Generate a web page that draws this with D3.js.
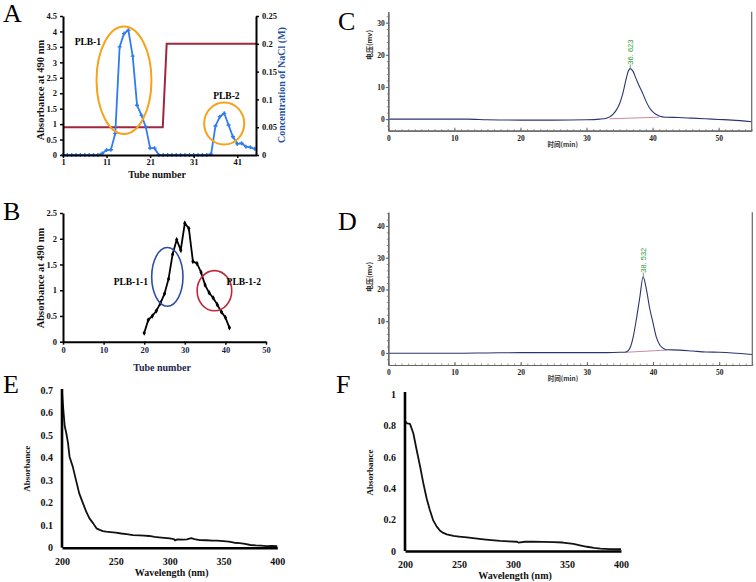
<!DOCTYPE html>
<html>
<head>
<meta charset="utf-8">
<script src="https://cdn.jsdelivr.net/npm/d3@7"></script>
<style>
  body { margin: 0; background: #fff; }
  svg text { font-family: "Liberation Serif", "Times New Roman", serif; }
</style>
</head>
<body>
<div id="app"></div>
<script>
// ---- panel A: DEAE column ----
const aTube = [1, 2, 3, 4, 5, 6, 7, 8, 9, 10, 11, 12, 13, 14, 15, 16, 17, 18, 19, 20, 21, 22, 23,
  24, 25, 26, 27, 28, 29, 30, 31, 32, 33, 34, 35, 36, 37, 38, 39, 40, 41, 42, 43, 44, 45];
const aAbs = [0, 0, 0, 0, 0, 0, 0, 0, 0, 0.05, 0.16, 0.17, 0.7, 3.5, 3.93, 4.04, 3.2, 1.61, 1.29, 0.91, 0.22, 0.22, 0,
  0, 0, 0, 0, 0, 0, 0, 0, 0, 0, 0, 0.03, 0.94, 1.24, 1.35, 0.97, 0.59, 0.36, 0.38, 0.27, 0.25, 0.2];
const naclTube = [1, 23.9, 24.8, 45.3];
const naclConc = [0.05, 0.05, 0.2, 0.2];
const aLeftTicks = [0, 0.5, 1, 1.5, 2, 2.5, 3, 3.5, 4, 4.5];
const aRightTicks = [0, 0.05, 0.1, 0.15, 0.2, 0.25];
const aTubeTicks = [1, 11, 21, 31, 41];
// circled fractions: centre (tube, abs) and half-axes (tubes, abs)
const aRings = [
  { name: "PLB-1", tube: 15, abs: 2.42, dt: 6.3, da: 1.74, lt: 6.7, la: 3.55 },
  { name: "PLB-2", tube: 38, abs: 1.02, dt: 4.6, da: 0.68, lt: 38.5, la: 1.82 }
];

// ---- panel B: Sephadex column ----
const bTube = [20, 21, 22, 23, 24, 25, 26, 27, 28, 29, 30, 31, 32, 33, 34, 35, 36, 37, 38, 39, 40, 41];
const bAbs = [0.17, 0.42, 0.5, 0.6, 0.75, 0.93, 1.22, 1.7, 1.98, 1.78, 2.3, 2.2, 1.56, 1.52, 1.35, 1.1,
  0.95, 0.85, 0.72, 0.58, 0.47, 0.27];
const bYTicks = [0, 0.5, 1, 1.5, 2, 2.5];
const bXTicks = [0, 10, 20, 30, 40, 50];
const bRings = [
  { name: "PLB-1-1", tube: 25.7, abs: 1.26, dt: 3.85, da: 0.57, color: "#2b4ea3", lt: 16.7, la: 1.1, anchor: "middle" },
  { name: "PLB-1-2", tube: 37.3, abs: 0.99, dt: 4.26, da: 0.39, color: "#c0283a", lt: 40.3, la: 1.1, anchor: "start" }
];

// ---- panels C, D: HPLC ----
const cTime = [0, 5, 10, 12, 15, 20, 25, 30, 32, 33, 33.5, 34, 34.5, 35, 35.5, 36, 36.3, 36.6, 37, 37.5,
  38, 38.5, 39, 39.5, 40, 40.5, 41, 42, 44, 46, 48, 50, 52, 55];
const cVolt = [0, 0, 0, 0, -0.2, -0.3, -0.3, -0.2, 0, 0.3, 0.7, 1.5, 2.8, 4.8, 8, 12.5, 14.8, 15.7, 15, 12.6,
  10.2, 8, 5.6, 3.6, 2.3, 1.5, 1.0, 0.6, 0.5, 0.3, 0.1, -0.1, -0.3, -0.8];
const cBaseT = [33.5, 41];
const cBaseV = [0.1, 0.6];
const cPeak = { time: 36.623, volt: 15.7, label: "36. 623" };
const cYTicks = [0, 10, 20, 30];

const dTime = [0, 5, 10, 15, 20, 25, 30, 33, 35, 35.5, 36, 36.5, 37, 37.5, 38, 38.5, 39, 39.5, 40, 40.5,
  41, 41.5, 42, 44, 46, 48, 50, 52, 55];
const dVolt = [-0.1, -0.1, -0.1, 0, 0.1, 0.1, 0.1, 0.1, 0.2, 0.2, 0.4, 1.5, 5, 10.8, 17.5, 24, 20, 14, 9.5, 5,
  2.6, 1.5, 1.0, 0.9, 0.6, 0.3, 0.2, 0, -0.5];
const dBaseT = [35.8, 42];
const dBaseV = [0.2, 0.9];
const dPeak = { time: 38.532, volt: 24, label: "38. 532" };
const dYTicks = [0, 10, 20, 30, 40];
const timeTicks = [0, 10, 20, 30, 40, 50];

// ---- panels E, F: UV spectra ----
const eWave = [200, 201, 202.5, 204, 205.6, 207, 210, 213, 216, 219.5, 222.5, 225.5, 229, 232, 235, 238, 241, 245,
  250, 255, 260, 266, 272, 276, 281, 286, 290, 295, 300, 304, 305, 307, 312, 316, 320, 323, 328, 334, 340, 344,
  350, 355, 360, 365, 370, 375, 380, 385, 390, 395, 400];
const eAbs = [0.693, 0.627, 0.54, 0.508, 0.464, 0.404, 0.36, 0.3, 0.241, 0.197, 0.16, 0.13, 0.108, 0.086, 0.079,
  0.074, 0.071, 0.069, 0.067, 0.063, 0.06, 0.056, 0.055, 0.054, 0.052, 0.048, 0.046, 0.044, 0.041, 0.038, 0.032,
  0.037, 0.036, 0.037, 0.042, 0.038, 0.034, 0.033, 0.031, 0.031, 0.029, 0.027, 0.022, 0.02, 0.017, 0.012, 0.01,
  0.009, 0.007, 0.008, 0.007];
const eYTicks = [0, 0.1, 0.2, 0.3, 0.4, 0.5, 0.6, 0.7];

const fWave = [200, 201, 202, 204.6, 207.7, 210.8, 214, 217, 220, 223, 226, 229.4, 232.5, 235.5, 238.7, 244.8,
  250, 257.3, 265, 272.7, 280, 288, 296, 303.7, 305, 311, 319, 328, 337.6, 346, 356, 362, 368.6, 375, 381, 390, 400];
const fAbs = [0.83, 0.82, 0.813, 0.81, 0.75, 0.643, 0.537, 0.431, 0.336, 0.261, 0.197, 0.155, 0.129, 0.115, 0.106,
  0.096, 0.092, 0.087, 0.08, 0.074, 0.069, 0.064, 0.061, 0.059, 0.054, 0.059, 0.059, 0.058, 0.057, 0.054, 0.045,
  0.036, 0.027, 0.02, 0.015, 0.012, 0.011];
const fYTicks = [0, 0.2, 0.4, 0.6, 0.8, 1];
const waveTicks = [200, 250, 300, 350, 400];

const svg = d3.select("#app").append("svg").attr("width", 756).attr("height", 582);

const styleAxis = (g, opt) => {
  g.attr("font-family", null).attr("font-size", null);
  g.select(".domain").attr("stroke", opt.stroke || "#000").attr("stroke-width", opt.width || 2);
  g.selectAll(".tick line").attr("stroke", opt.stroke || "#000").attr("stroke-width", opt.tickWidth || 1.5);
  g.selectAll(".tick text")
    .style("font-size", `${opt.size || 8.5}px`)
    .style("font-weight", opt.weight || "bold")
    .attr("fill", opt.color || "#111");
};

const letter = (t, x, y) =>
  svg.append("text").text(t).attr("x", x).attr("y", y).style("font-size", "26px");

const label = (t, x, y, size, rot, color) =>
  svg.append("text").text(t)
    .attr("transform", `translate(${x},${y})${rot ? " rotate(-90)" : ""}`)
    .attr("text-anchor", "middle")
    .style("font-size", `${size}px`).style("font-weight", "bold")
    .attr("fill", color || "#111");

// ================= A =================
{
  const x = d3.scaleLinear().domain([1, 45.3]).range([63, 256]);
  const y = d3.scaleLinear().domain([0, 4.5]).range([155, 16]);
  const y2 = d3.scaleLinear().domain([0, 0.25]).range([155, 16]);

  svg.append("path")
    .datum(naclTube.map((t, i) => [t, naclConc[i]]))
    .attr("fill", "none").attr("stroke", "#a3263f").attr("stroke-width", 2)
    .attr("d", d3.line().x((d) => x(d[0])).y((d) => y2(d[1])));

  const pts = aTube.map((t, i) => [t, aAbs[i]]);
  svg.append("path").datum(pts)
    .attr("fill", "none").attr("stroke", "#2f7cf0").attr("stroke-width", 1.8)
    .attr("d", d3.line().x((d) => x(d[0])).y((d) => y(d[1])));
  svg.selectAll(".ma").data(pts).enter().append("path")
    .attr("transform", (d) => `translate(${x(d[0])},${y(d[1])})`)
    .attr("d", d3.symbol(d3.symbolCross, 9))
    .attr("fill", "#2f7cf0");

  aRings.forEach((r) => {
    svg.append("ellipse")
      .attr("cx", x(r.tube)).attr("cy", y(r.abs))
      .attr("rx", x(r.tube + r.dt) - x(r.tube)).attr("ry", y(0) - y(r.da))
      .attr("fill", "none").attr("stroke", "#f7a21b").attr("stroke-width", 2);
    svg.append("text").text(r.name)
      .attr("x", x(r.lt)).attr("y", y(r.la))
      .attr("text-anchor", "middle")
      .style("font-size", "9.5px").style("font-weight", "bold");
  });

  svg.append("g").attr("transform", "translate(0,155)")
    .call(d3.axisBottom(x).tickValues(aTubeTicks).tickSize(3).tickPadding(1).tickSizeOuter(0))
    .call(styleAxis, { size: 8.5 });
  svg.append("g").attr("transform", "translate(63,0)")
    .call(d3.axisLeft(y).tickValues(aLeftTicks).tickFormat(String).tickSize(3).tickSizeOuter(0))
    .call(styleAxis, { size: 8.5 });
  svg.append("g").attr("transform", "translate(256,0)")
    .call(d3.axisRight(y2).tickValues(aRightTicks).tickFormat(String).tickSize(3).tickSizeOuter(0))
    .call(styleAxis, { size: 8.5 });

  label("Tube number", 157, 178, 10);
  label("Absorbance at 490 nm", 44, 90, 10.5, true);
  label("Concentration of NaCl (M)", 285, 85, 10, true, "#1f4f9e");
  letter("A", 3, 22);
}

// ================= B =================
{
  const x = d3.scaleLinear().domain([0, 50]).range([63, 266]);
  const y = d3.scaleLinear().domain([0, 2.5]).range([341.7, 213]);
  const pts = bTube.map((t, i) => [t, bAbs[i]]);

  svg.append("path").datum(pts)
    .attr("fill", "none").attr("stroke", "#000").attr("stroke-width", 1.8)
    .attr("d", d3.line().x((d) => x(d[0])).y((d) => y(d[1])));
  svg.selectAll(".mb").data(pts).enter().append("path")
    .attr("transform", (d) => `translate(${x(d[0])},${y(d[1])})`)
    .attr("d", d3.symbol(d3.symbolDiamond, 9))
    .attr("fill", "#000");

  bRings.forEach((r) => {
    svg.append("ellipse")
      .attr("cx", x(r.tube)).attr("cy", y(r.abs))
      .attr("rx", x(r.tube + r.dt) - x(r.tube)).attr("ry", y(0) - y(r.da))
      .attr("fill", "none").attr("stroke", r.color).attr("stroke-width", 1.6);
    svg.append("text").text(r.name)
      .attr("x", x(r.lt)).attr("y", y(r.la))
      .attr("text-anchor", r.anchor)
      .style("font-size", "9.5px").style("font-weight", "bold");
  });

  svg.append("g").attr("transform", "translate(0,341.7)")
    .call(d3.axisBottom(x).tickValues(bXTicks).tickSize(3).tickPadding(2).tickSizeOuter(0))
    .call(styleAxis, { size: 8.5, color: "#1c1f4d" });
  svg.append("g").attr("transform", "translate(63,0)")
    .call(d3.axisLeft(y).tickValues(bYTicks).tickFormat(String).tickSize(3).tickSizeOuter(0))
    .call(styleAxis, { size: 8.5 });

  label("Tube number", 162, 371, 10, false, "#1c1f4d");
  label("Absorbance at 490 nm", 44, 278, 10.5, true);
  letter("B", 3, 220);
}

// ================= C, D =================
const chrom = (p) => {
  const x = d3.scaleLinear().domain([0, 55]).range(p.xr);
  const y = d3.scaleLinear().domain(p.yd).range(p.yr);
  const gray = "#666";
  const line = d3.line().x((d) => x(d[0])).y((d) => y(d[1]));

  svg.append("path").datum(p.baseT.map((t, i) => [t, p.baseV[i]]))
    .attr("fill", "none").attr("stroke", "#c98aa6").attr("stroke-width", 1)
    .attr("d", line);
  svg.append("path").datum(p.time.map((t, i) => [t, p.volt[i]]))
    .attr("fill", "none").attr("stroke", "#2a3570").attr("stroke-width", 1.1)
    .attr("d", line.curve(d3.curveMonotoneX));

  // peak label
  const px = x(p.peak.time), py = y(p.peak.volt);
  svg.append("line").attr("x1", px).attr("x2", px).attr("y1", py).attr("y2", py - 4)
    .attr("stroke", "#2e9a35").attr("stroke-width", 0.8);
  svg.append("text").text(p.peak.label)
    .attr("transform", `translate(${px},${py - 4}) rotate(-90)`)
    .attr("dy", "0.35em")
    .style("font-family", "Liberation Sans, sans-serif")
    .style("font-size", "7.5px").attr("fill", "#2e9a35");

  const bottom = p.yr[0];
  svg.append("g").attr("transform", `translate(0,${bottom})`)
    .call(d3.axisBottom(x).ticks(55).tickSize(-1.5).tickFormat("").tickSizeOuter(0))
    .call(styleAxis, { stroke: gray, width: 1.2, tickWidth: 0.7 });
  svg.append("g").attr("transform", `translate(0,${bottom})`)
    .call(d3.axisBottom(x).tickValues(timeTicks).tickSize(-3).tickPadding(5).tickSizeOuter(0))
    .call(styleAxis, { stroke: gray, width: 1.2, tickWidth: 1, size: 7.5, color: "#222" });
  svg.append("g").attr("transform", `translate(${p.xr[0]},0)`)
    .call(d3.axisLeft(y).ticks(20).tickSize(1.5).tickFormat("").tickSizeOuter(0))
    .call(styleAxis, { stroke: gray, width: 1.2, tickWidth: 0.7 });
  svg.append("g").attr("transform", `translate(${p.xr[0]},0)`)
    .call(d3.axisLeft(y).tickValues(p.yTicks).tickSize(2.5).tickPadding(1).tickSizeOuter(0))
    .call(styleAxis, { stroke: gray, width: 1.2, tickWidth: 1, size: 7.5, color: "#222" });
  svg.append("line")
    .attr("x1", p.xr[1]).attr("x2", p.xr[1]).attr("y1", p.yr[0]).attr("y2", p.yr[1])
    .attr("stroke", gray).attr("stroke-width", 1.2);

  svg.append("text").text("时间(min)")
    .attr("x", x(26.4)).attr("y", bottom + 16)
    .attr("text-anchor", "middle")
    .style("font-family", "Noto Sans CJK SC").style("font-size", "6.5px").style("font-weight", "bold")
    .attr("fill", "#333");
  svg.append("text").text("电压(mv)")
    .attr("transform", `translate(${p.xr[0] - 16},${p.labelY}) rotate(-90)`)
    .attr("text-anchor", "middle")
    .style("font-family", "Noto Sans CJK SC").style("font-size", "7px").style("font-weight", "bold")
    .attr("fill", "#333");
  letter(p.letter, 338, p.letterY);
};

chrom({
  xr: [388.3, 751.7], yd: [-3.6, 33.4], yr: [130.7, 11.7],
  time: cTime, volt: cVolt, baseT: cBaseT, baseV: cBaseV, peak: cPeak,
  yTicks: cYTicks, labelY: 45, letter: "C", letterY: 30
});
chrom({
  xr: [388.3, 752.3], yd: [-3.8, 44.3], yr: [365, 212.3],
  time: dTime, volt: dVolt, baseT: dBaseT, baseV: dBaseV, peak: dPeak,
  yTicks: dYTicks, labelY: 277, letter: "D", letterY: 230
});

// ================= E, F =================
const spectrum = (p) => {
  const x = d3.scaleLinear().domain([200, 400]).range(p.xr);
  const y = d3.scaleLinear().domain(p.yd).range(p.yr);

  svg.append("path").datum(p.wave.map((w, i) => [w, p.abs[i]]))
    .attr("fill", "none").attr("stroke", "#111").attr("stroke-width", 1.8)
    .attr("stroke-linejoin", "round")
    .attr("d", d3.line().x((d) => x(d[0])).y((d) => y(d[1])));

  svg.append("g").attr("transform", `translate(0,${p.yr[0]})`)
    .call(d3.axisBottom(x).tickValues(waveTicks).tickSize(0).tickPadding(10).tickSizeOuter(0))
    .call(styleAxis, { width: 2.6, size: 10 });
  svg.append("g").attr("transform", `translate(${p.xr[0]},0)`)
    .call(d3.axisLeft(y).tickValues(p.yTicks).tickFormat(String).tickSize(0).tickPadding(9).tickSizeOuter(0))
    .call(styleAxis, { width: 2.6, size: 10 })
    .call((g) => g.select(".domain").attr("d", `M0,${p.yr[0]}V${p.top}`));

  label("Wavelength (nm)", (p.xr[0] + p.xr[1]) / 2 + 2, p.titleY, 10);
  label("Absorbance", p.xr[0] - 32, (p.yr[0] + p.yr[1]) / 2, 9, true);
  letter(p.letter, p.lx, p.ly);
};

spectrum({
  xr: [62, 277.3], yd: [0, 0.7], yr: [547.7, 390], top: 389,
  wave: eWave, abs: eAbs, yTicks: eYTicks, titleY: 576, letter: "E", lx: 3, ly: 393
});
spectrum({
  xr: [405, 621], yd: [0, 1], yr: [551, 394], top: 392,
  wave: fWave, abs: fAbs, yTicks: fYTicks, titleY: 579, letter: "F", lx: 336, ly: 393
});
</script>
</body>
</html>
